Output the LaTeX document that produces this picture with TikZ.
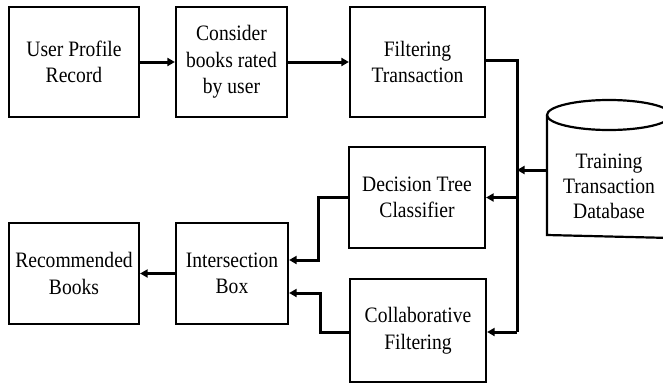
\documentclass[tikz,border=0pt]{standalone}
\usepackage{fontspec}
\setmainfont{Liberation Serif}[FakeStretch=0.89]
\usetikzlibrary{arrows.meta}
\begin{document}
\begin{tikzpicture}[x=1pt,y=-1pt,
  stepbox/.style={draw, line width=2.2pt, inner sep=0pt, align=center,
    font=\fontsize{22}{26.5}\selectfont},
  flow/.style={line width=3pt, -{Triangle[length=7.5pt,width=8pt]}},
  wire/.style={line width=3pt}]
\useasboundingbox (0,0) rectangle (663,383);

% top row
\node[stepbox, minimum width=130pt, minimum height=110pt] (upr) at (74,62) {User Profile\\Record};
\node[stepbox, minimum width=111pt, minimum height=110pt] (cons) at (231.5,62) {Consider\\books rated\\by user};
\node[stepbox, minimum width=135pt, minimum height=110pt] (filt) at (417.5,62) {Filtering\\Transaction};

% classifiers
\node[stepbox, minimum width=136pt, minimum height=101pt] (dtc) at (417,197.5) {Decision Tree\\Classifier};
\node[stepbox, minimum width=136pt, minimum height=103pt] (collab) at (418,330.5) {Collaborative\\Filtering};

% bottom row
\node[stepbox, minimum width=112pt, minimum height=101pt] (inter) at (232,273.5) {Intersection\\Box};
\node[stepbox, minimum width=130pt, minimum height=101pt] (rec) at (74,273.5) {Recommended\\Books};

% database cylinder
\draw[line width=2.2pt] (547,115) -- (547,235) -- (671,238) -- (671,115);
\draw[line width=2.2pt, fill=white] (609,115) ellipse [x radius=62, y radius=15];
\node[align=center, inner sep=0pt, font=\fontsize{22}{25}\selectfont] (db) at (609,186) {Training\\Transaction\\Database};
\coordinate (dbin) at (547,170);

% bus on the right
\coordinate (bustop) at (517,60);
\coordinate (busdtc) at (517,197.5);
\coordinate (busdb) at (517,170);
\coordinate (busbot) at (517,332);

% connectors
\draw[flow] (upr.east) -- (cons.west);
\draw[flow] (cons.east) -- (filt.west);
\draw[wire] (filt.east |- bustop) -- (bustop) -- (busbot);
\draw[flow] (busbot) -- (collab.east |- busbot);
\draw[flow] (busdtc) -- (dtc.east);
\draw[flow] (dbin) -- (busdb);
\draw[flow] (dtc.west) -- (318,197.5) |- (inter.east |- 0,260);
\draw[flow] (collab.west |- 0,332) -- (320,332) |- (inter.east |- 0,293);
\draw[flow] (inter.west) -- (rec.east);
\end{tikzpicture}
\end{document}
